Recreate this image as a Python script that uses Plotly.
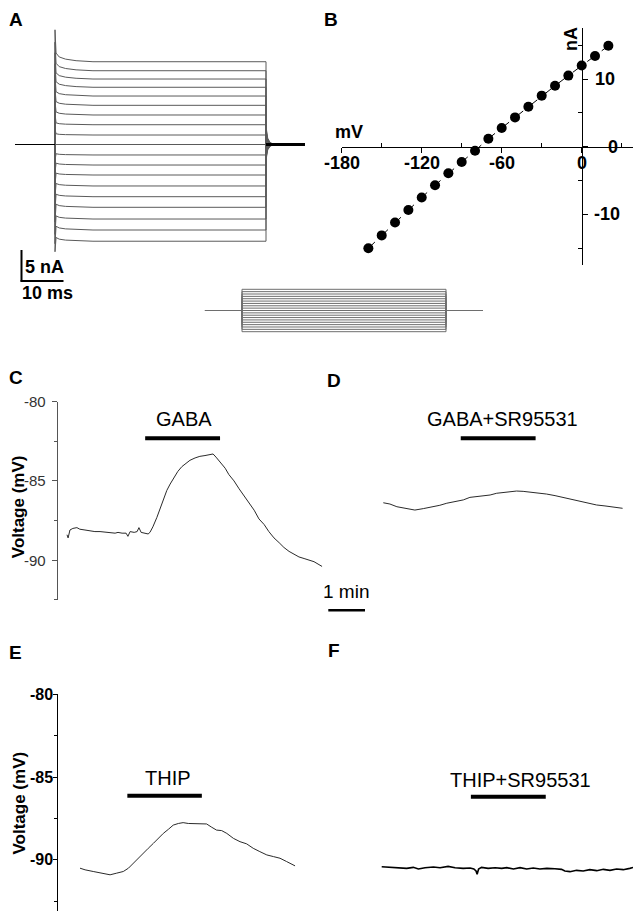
import plotly.graph_objects as go

W, H = 641, 911
OFF = 8  # the page places the figure 8 px from the top-left corner
FONT = "Arial, 'Liberation Sans', Helvetica, sans-serif"

# ------------------------------------------------------------------ data
# Panel A: whole-cell currents to 19 voltage steps (top = +20 mV ... bottom = -160 mV)
a_step_mV = [20, 10, 0, -10, -20, -30, -40, -50, -60, -70,
             -80, -90, -100, -110, -120, -130, -140, -150, -160]
a_plateau_nA = [13.35, 11.9, 10.56, 9.23, 7.82, 6.32, 4.76, 3.19, 1.53, 0.0,
                -1.69, -3.31, -4.92, -6.69, -8.42, -10.13, -12.02, -13.79, -15.6]
a_onset_peak_nA = [18.5, 16.5, 14.8, 13.0, 11.2, 9.0, 7.0, 5.0, 2.5, 0.0,
                   -2.5, -4.5, -6.5, -8.5, -10.5, -12.5, -14.5, -16.0, -17.3]
a_early_offset_nA = [1.4, 1.2, 1.0, 0.9, 0.7, 0.6, 0.5, 0.3, 0.2, 0.0,
                     0.2, 0.3, 0.3, 0.4, 0.4, 0.5, 0.5, 0.6, 0.6]
a_relax_ms = [0.25, 1.0, 2.5, 5.0, 9.0]
a_relax_frac = [1.0, 0.55, 0.3, 0.12, 0.0]
a_tail_nA = [-2.5, -2.2, -1.9, -1.6, -1.3, -1.0, -0.7, -0.5, -0.2, 0.0,
             0.3, 0.6, 0.9, 1.2, 1.5, 1.8, 2.2, 2.5, 2.9]
a_tail_ms = [50.0, 50.4, 51.0, 52.0]
a_tail_frac = [1.0, 0.35, 0.1, 0.0]
a_pre_ms = -9.48
a_step_ms = 50.0
a_end_ms = 59.24

# voltage protocol under A/B
prot_hold_mV = -70
prot_t_ms = [-9.07, 0.0, 50.0, 59.07]

# Panel B: I-V relation
b_mV = [-160, -150, -140, -130, -120, -110, -100, -90, -80, -70,
        -60, -50, -40, -30, -20, -10, 0, 10, 20]
b_nA = [-15.0, -13.1, -11.2, -9.35, -7.5, -5.7, -3.93, -2.26, -0.59, 1.18,
        2.76, 4.33, 5.91, 7.54, 9.0, 10.5, 12.0, 13.4, 14.9]

# Panel C: GABA
c_t = [0.0, 0.03, 0.08, 0.16, 0.27, 0.35, 0.49, 0.63, 0.76, 0.90, 1.04, 1.17, 1.31, 1.39, 1.50,
       1.61, 1.66, 1.72, 1.83, 1.91, 1.96, 2.02, 2.10, 2.21, 2.26, 2.34, 2.45, 2.53, 2.62, 2.72,
       2.81, 2.92, 3.02, 3.13, 3.24, 3.35, 3.49, 3.62, 3.76, 3.90, 3.98, 4.06, 4.17, 4.31, 4.41,
       4.55, 4.69, 4.82, 4.96, 5.10, 5.23, 5.37, 5.50, 5.64, 5.78, 5.91, 6.05, 6.19, 6.32, 6.46,
       6.59, 6.73, 6.84, 6.95]
c_mV = [-88.4, -88.6, -88.1, -88.0, -87.95, -88.05, -88.1, -88.15, -88.2, -88.2, -88.25, -88.25,
        -88.3, -88.25, -88.3, -88.3, -88.5, -88.2, -88.25, -88.2, -87.95, -88.25, -88.3, -88.35,
        -88.25, -87.9, -87.3, -86.8, -86.3, -85.6, -85.2, -84.8, -84.4, -84.1, -83.9, -83.7,
        -83.55, -83.45, -83.4, -83.35, -83.3, -83.5, -83.8, -84.2, -84.6, -85.0, -85.5, -85.95,
        -86.4, -86.85, -87.4, -87.75, -88.2, -88.6, -88.9, -89.2, -89.45, -89.65, -89.8, -89.9,
        -90.0, -90.1, -90.25, -90.4]
c_bar_t = [2.13, 4.17]
c_bar_mV = -82.31

# Panel D: GABA + SR95531
d_t = [0, 0.18, 0.37, 0.64, 0.86, 1.09, 1.27, 1.54, 1.73, 2.0, 2.18, 2.36, 2.54, 2.72, 2.91,
       3.09, 3.27, 3.45, 3.63, 3.81, 4.0, 4.22, 4.45, 4.68, 4.9, 5.13, 5.36, 5.59, 5.81, 6.04,
       6.27, 6.52]
d_mV = [-86.38, -86.46, -86.63, -86.75, -86.84, -86.75, -86.67, -86.54, -86.41, -86.31, -86.2,
        -86.04, -86.0, -85.95, -85.89, -85.78, -85.74, -85.68, -85.64, -85.66, -85.7, -85.76,
        -85.83, -85.93, -86.04, -86.16, -86.31, -86.41, -86.52, -86.58, -86.63, -86.73]
d_bar_t = [2.11, 4.15]
d_bar_mV = -82.31

# Panel E: THIP
e_t = [0, 0.14, 0.36, 0.59, 0.82, 1.0, 1.18, 1.32, 1.45, 1.59, 1.72, 1.86, 2.0, 2.13, 2.27,
       2.41, 2.54, 2.68, 2.81, 2.95, 3.09, 3.27, 3.45, 3.59, 3.72, 3.86, 4.0, 4.18, 4.36, 4.54,
       4.72, 4.9, 5.09, 5.27, 5.45, 5.63, 5.86]
e_mV = [-90.5, -90.6, -90.7, -90.8, -90.9, -90.8, -90.7, -90.5, -90.2, -89.9, -89.6, -89.3,
        -89.0, -88.7, -88.4, -88.15, -87.9, -87.8, -87.75, -87.8, -87.8, -87.83, -87.83, -88.03,
        -88.2, -88.23, -88.4, -88.7, -88.9, -89.03, -89.3, -89.5, -89.7, -89.8, -89.9, -90.1,
        -90.36]
e_bar_t = [1.29, 3.32]
e_bar_mV = -86.12

# Panel F: THIP + SR95531
f_t = [0, 0.23, 0.50, 0.68, 0.86, 1.0, 1.18, 1.41, 1.59, 1.81, 2.0, 2.22, 2.41, 2.51, 2.57,
       2.6, 2.64, 2.72, 2.9, 3.09, 3.27, 3.41, 3.59, 3.77, 3.95, 4.13, 4.31, 4.5, 4.72, 4.9,
       4.99, 5.13, 5.31, 5.49, 5.67, 5.86, 6.04, 6.22, 6.4, 6.58, 6.76, 6.9, 6.99, 7.07]
f_mV = [-90.41, -90.45, -90.47, -90.51, -90.45, -90.55, -90.47, -90.43, -90.47, -90.39, -90.47,
        -90.51, -90.49, -90.55, -90.67, -90.87, -90.55, -90.45, -90.51, -90.47, -90.51, -90.47,
        -90.55, -90.47, -90.55, -90.49, -90.55, -90.51, -90.53, -90.57, -90.67, -90.71, -90.63,
        -90.67, -90.59, -90.65, -90.57, -90.63, -90.55, -90.59, -90.51, -90.43, -90.47, -90.53]
f_bar_t = [2.43, 4.47]
f_bar_mV = -86.18

v_ticks = [-80, -85, -90]
v_minor = [-82.5, -87.5, -92.5]
b_xticks = [-180, -120, -60, 0]
b_xminor = [-150, -90, -30, 30]
b_yticks = [10, 0, -10]
b_yminor = [-15, -5, 5, 15]


# ------------------------------------------------------------------ geometry helpers (pixels)
def px(x):
    return (x - OFF) / W


def py(y):
    return 1 - (y - OFF) / H


def xdom(x0, x1):
    return [max(0.0, px(x0)), min(1.0, px(x1))]


def ydom(y0, y1):
    return [max(0.0, py(y1)), min(1.0, py(y0))]


def xr(x0, x1, ref_px, ref_val, ppu):
    return [ref_val + (x0 - ref_px) / ppu, ref_val + (x1 - ref_px) / ppu]


def yr(y0, y1, ref_px, ref_val, ppu):
    return [ref_val - (y1 - ref_px) / ppu, ref_val - (y0 - ref_px) / ppu]


def hidden(dom, rng, anchor):
    return dict(domain=dom, range=rng, visible=False, fixedrange=True,
                showgrid=False, zeroline=False, anchor=anchor)


fig = go.Figure()

# ------------------------------------------------------------------ panel A
GRAY = "#5a5a5a"
for i in range(len(a_step_mV)):
    p = a_plateau_nA[i]
    xs = [0.0, 0.0] + a_relax_ms + [a_step_ms] + a_tail_ms
    ys = ([0.0, a_onset_peak_nA[i]]
          + [p + a_early_offset_nA[i] * f for f in a_relax_frac]
          + [p]
          + [a_tail_nA[i] * f for f in a_tail_frac])
    fig.add_trace(go.Scatter(x=xs, y=ys, mode="lines", xaxis="x", yaxis="y",
                             line=dict(color=GRAY, width=1), hoverinfo="skip"))
fig.add_trace(go.Scatter(x=[a_pre_ms, 0.0], y=[0, 0], mode="lines", xaxis="x", yaxis="y",
                         line=dict(color="black", width=1.2), hoverinfo="skip"))
fig.add_trace(go.Scatter(x=[a_step_ms, a_end_ms], y=[0, 0], mode="lines", xaxis="x", yaxis="y",
                         line=dict(color="black", width=3), hoverinfo="skip"))

# voltage protocol
for v in a_step_mV:
    fig.add_trace(go.Scatter(
        x=[prot_t_ms[0], prot_t_ms[1], prot_t_ms[1], prot_t_ms[2], prot_t_ms[2], prot_t_ms[3]],
        y=[prot_hold_mV, prot_hold_mV, v, v, prot_hold_mV, prot_hold_mV],
        mode="lines", xaxis="x3", yaxis="y3",
        line=dict(color="#6e6e6e", width=1), hoverinfo="skip"))

# ------------------------------------------------------------------ panel B
fig.add_trace(go.Scatter(x=b_mV, y=b_nA, mode="lines+markers", xaxis="x2", yaxis="y2",
                         line=dict(color="black", width=1, dash="dash"),
                         marker=dict(color="black", size=10), hoverinfo="skip"))

# ------------------------------------------------------------------ panels C-F
TR = "#2a2a2a"
for xs, ys, axn, col, wd in [(c_t, c_mV, "4", TR, 1), (d_t, d_mV, "5", TR, 1),
                             (e_t, e_mV, "6", TR, 1), (f_t, f_mV, "7", "black", 1.6)]:
    fig.add_trace(go.Scatter(x=xs, y=ys, mode="lines", xaxis="x" + axn, yaxis="y" + axn,
                             line=dict(color=col, width=wd), hoverinfo="skip"))
for bt, bv, axn in [(c_bar_t, c_bar_mV, "4"), (d_bar_t, d_bar_mV, "5"),
                    (e_bar_t, e_bar_mV, "6"), (f_bar_t, f_bar_mV, "7")]:
    fig.add_trace(go.Scatter(x=bt, y=[bv, bv], mode="lines", xaxis="x" + axn, yaxis="y" + axn,
                             line=dict(color="black", width=4), hoverinfo="skip"))

# ------------------------------------------------------------------ axes
ax = {}
ax["xaxis"] = hidden(xdom(8, 315), xr(8, 315, 55, 0, 4.22), "y")
ax["yaxis"] = hidden(ydom(20, 310), yr(20, 310, 144.5, 0, 6.2), "x")
ax["xaxis3"] = hidden(xdom(200, 490), xr(200, 490, 242, 0, 4.08), "y3")
ax["yaxis3"] = hidden(ydom(280, 340), yr(280, 340, 310.5, -70, 0.2356), "x3")

ax["xaxis2"] = dict(
    domain=xdom(341.7, 635), range=xr(341.7, 635, 581.7, 0, 1.3333),
    anchor="free", position=py(146.7), side="bottom",
    showline=True, linecolor="black", linewidth=1, zeroline=False, showgrid=False,
    tickmode="array", tickvals=b_xticks, showticklabels=False,
    ticks="outside", ticklen=5, tickcolor="black", tickwidth=1,
    minor=dict(tickmode="array", tickvals=b_xminor, ticks="inside", ticklen=4,
               tickcolor="black", showgrid=False),
    fixedrange=True)
ax["yaxis2"] = dict(
    domain=ydom(28.2, 265.2), range=yr(28.2, 265.2, 146.7, 0, 6.77),
    anchor="free", position=px(581.7), side="right",
    showline=True, linecolor="black", linewidth=1, zeroline=False, showgrid=False,
    tickmode="array", tickvals=b_yticks, showticklabels=False,
    ticks="outside", ticklen=5, tickcolor="black", tickwidth=1,
    minor=dict(tickmode="array", tickvals=b_yminor, ticks="inside", ticklen=4,
               tickcolor="black", showgrid=False),
    fixedrange=True)

ax["xaxis4"] = hidden(xdom(57.3, 330), xr(57.3, 330, 67, 0, 36.7), "y4")
ax["yaxis4"] = dict(
    domain=ydom(401.7, 599.7), range=yr(401.7, 599.7, 401.7, -80, 15.84),
    anchor="free", position=px(57.3), side="left",
    showline=True, linecolor="#555", linewidth=1, zeroline=False, showgrid=False,
    tickmode="array", tickvals=v_ticks, showticklabels=False,
    ticks="outside", ticklen=5, tickcolor="#555",
    minor=dict(tickmode="array", tickvals=v_minor, ticks="outside", ticklen=3,
               tickcolor="#555", showgrid=False),
    fixedrange=True)
ax["xaxis5"] = hidden(xdom(330, 641), xr(330, 641, 383.3, 0, 36.7), "y5")
ax["yaxis5"] = hidden(ydom(401.7, 599.7), yr(401.7, 599.7, 401.7, -80, 15.84), "x5")

ax["xaxis6"] = hidden(xdom(56.7, 330), xr(56.7, 330, 80, 0, 36.7), "y6")
ax["yaxis6"] = dict(
    domain=ydom(694.3, 911), range=yr(694.3, 911, 694.3, -80, 16.56),
    anchor="free", position=px(56.7), side="left",
    showline=True, linecolor="black", linewidth=1, zeroline=False, showgrid=False,
    tickmode="array", tickvals=v_ticks, showticklabels=False,
    ticks="outside", ticklen=4, tickcolor="black",
    minor=dict(tickmode="array", tickvals=v_minor, ticks="outside", ticklen=3,
               tickcolor="black", showgrid=False),
    fixedrange=True)
ax["xaxis7"] = hidden(xdom(330, 641), xr(330, 641, 381.7, 0, 36.7), "y7")
ax["yaxis7"] = hidden(ydom(694.3, 911), yr(694.3, 911, 694.3, -80, 16.56), "x7")

# ------------------------------------------------------------------ text
ann = []


def label(text, x, y, size, bold=False, angle=0, xanchor="center", yanchor="middle",
          color="black", xref="paper", yref="paper"):
    xx = px(x) if xref == "paper" else x
    yy = py(y) if yref == "paper" else y
    ann.append(dict(text=text, x=xx, y=yy, xref=xref, yref=yref,
                    xanchor=xanchor, yanchor=yanchor, showarrow=False, textangle=angle,
                    borderpad=0,
                    font=dict(family=FONT, size=size, color=color,
                              weight="bold" if bold else "normal")))


# panel letters (the top/left ones start at the page edge)
label("A", 8, 8, 19, bold=True, xanchor="left", yanchor="top")
label("B", 323, 8, 19, bold=True, xanchor="left", yanchor="top")
label("C", 8, 377.5, 19, bold=True, xanchor="left")
label("D", 326, 380, 19, bold=True, xanchor="left")
label("E", 8, 652.5, 19, bold=True, xanchor="left")
label("F", 326.5, 650, 19, bold=True, xanchor="left")

label("5 nA", 24, 266.5, 18, bold=True, xanchor="left")
label("10 ms", 21, 293, 18, bold=True, xanchor="left")
label("mV", 348.5, 132, 18, bold=True)
label("nA", 570.8, 39.2, 18, bold=True, angle=-90)

# panel B tick labels
for v in b_xticks:
    label(str(v), v, 163.3, 18, bold=True, xref="x2")
for v, xc in zip(b_yticks, [605, 613, 606.7]):
    label(str(v), xc, v, 18, bold=True, yref="y2")

# C / E tick labels
for v in v_ticks:
    label(str(v), 47, v, 15, xanchor="right", color="#333", yref="y4")
    label(str(v), 53.5, v, 16, bold=True, xanchor="right", yref="y6")

label("Voltage (mV)", 8, 506.7, 17, bold=True, angle=-90, xanchor="left")
label("Voltage (mV)", 8, 803, 17, bold=True, angle=-90, xanchor="left")
label("GABA", 184, 419.2, 20)
label("GABA+SR95531", 502.7, 419.2, 20)
label("THIP", 167.8, 777.5, 20)
label("THIP+SR95531", 520, 779.5, 20)
label("1 min", 346.3, 591, 19)

# scale bars (paper coordinates from pixel positions)
shapes = [
    dict(type="line", xref="paper", yref="paper", x0=px(21.5), x1=px(21.5), y0=py(250), y1=py(281.5),
         line=dict(color="black", width=2)),
    dict(type="line", xref="paper", yref="paper", x0=px(20.5), x1=px(63.5), y0=py(281), y1=py(281),
         line=dict(color="black", width=2)),
    dict(type="line", xref="paper", yref="paper", x0=px(328.3), x1=px(365), y0=py(610.3), y1=py(610.3),
         line=dict(color="black", width=2.5)),
]

fig.update_layout(
    width=W, height=H, margin=dict(l=0, r=0, t=0, b=0),
    paper_bgcolor="white", plot_bgcolor="white", showlegend=False,
    font=dict(family=FONT), annotations=ann, shapes=shapes, **ax)

fig.write_html("out.html")
